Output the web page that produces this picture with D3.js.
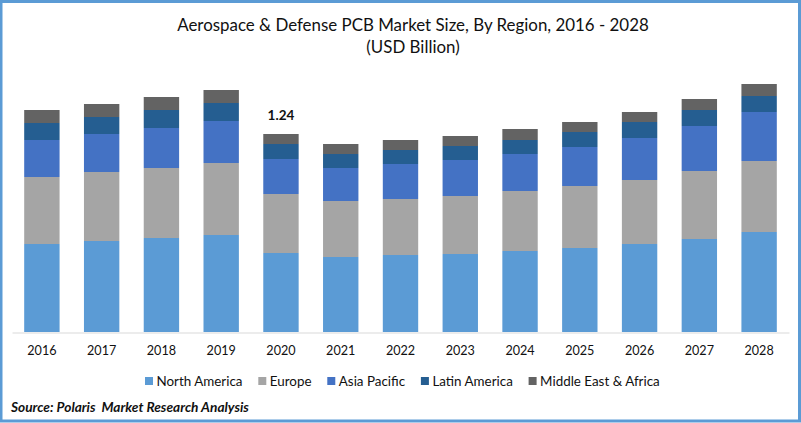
<!DOCTYPE html>
<html>
<head>
<meta charset="utf-8">
<script src="https://cdn.jsdelivr.net/npm/d3@7"></script>
<style>
html,body{margin:0;padding:0;background:#fff;overflow:hidden}
svg{display:block}
text{font-family:Lato,"Open Sans",sans-serif;fill:#111}
</style>
</head>
<body>
<div id="chart"></div>
<script>
const years = ["2016","2017","2018","2019","2020","2021","2022","2023","2024","2025","2026","2027","2028"];
const northAmerica = [.5511,.5699,.5887,.6075,.4947,.4697,.4822,.4885,.5073,.5261,.5511,.5824,.6263];
const europe = [.4196,.4321,.4384,.4509,.3695,.3507,.3507,.3632,.3758,.3883,.4008,.4259,.4446];
const asiaPacific = [.2317,.2380,.2505,.2630,.2192,.2067,.2192,.2255,.2317,.2442,.2630,.2818,.3069];
const latinAmerica = [.1065,.1065,.1127,.1127,.0939,.0877,.0877,.0877,.0877,.0939,.1002,.1002,.1002];
const middleEast = [.0814,.0814,.0814,.0814,.0626,.0626,.0626,.0626,.0689,.0626,.0626,.0689,.0752];
const seriesNames = ["North America","Europe","Asia Pacific","Latin America","Middle East & Africa"];
const seriesColors = ["#5b9bd5","#a5a5a5","#4472c4","#255e91","#636363"];
const titleLines = ["Aerospace & Defense PCB Market Size, By Region, 2016 - 2028","(USD Billion)"];
const sourceText = "Source: Polaris  Market Research Analysis";
const annotatedYear = "2020";
const annotatedValue = "1.24";

const W = 801, H = 423;
const svg = d3.select("#chart").append("svg").attr("width", W).attr("height", H);

svg.append("rect").attr("x",1).attr("y",1.5).attr("width",W-2.5).attr("height",H-3.5)
  .attr("fill","#fff").attr("stroke","#5b9bd5").attr("stroke-width",3);

const seriesValues = [northAmerica, europe, asiaPacific, latinAmerica, middleEast];
const rows = years.map((y,i)=>{
  const r = {year:y};
  seriesNames.forEach((n,k)=>{ r[n] = seriesValues[k][i]; });
  return r;
});
const stacked = d3.stack().keys(seriesNames)(rows);

const x = d3.scaleBand().domain(years).range([12,789]).paddingInner(0.408).paddingOuter(0.204);
const y = d3.scaleLinear().domain([0,1.24]).rangeRound([332,134]);
const color = d3.scaleOrdinal().domain(seriesNames).range(seriesColors);

svg.append("g").selectAll("g").data(stacked).join("g")
  .attr("fill", d=>color(d.key))
  .selectAll("rect").data(d=>d).join("rect")
  .attr("x", d=>x(d.data.year))
  .attr("width", x.bandwidth())
  .attr("y", d=>y(d[1]))
  .attr("height", d=>y(d[0])-y(d[1]));

const axis = svg.append("g").attr("transform","translate(0,332.5)")
  .call(d3.axisBottom(x).tickSize(0).tickPadding(14));
axis.select(".domain").attr("stroke","#d9d9d9").attr("stroke-width",1.2);
axis.selectAll("text").attr("font-size",12.6).style("font-family","Lato").attr("fill","#111");

svg.append("text").attr("x",x(annotatedYear)+x.bandwidth()/2).attr("y",120)
  .attr("text-anchor","middle").attr("font-size",13.5).attr("font-weight",700).text(annotatedValue);

svg.selectAll("text.title").data(titleLines).join("text").attr("class","title")
  .attr("x",413).attr("y",(d,i)=>31+i*21.5)
  .attr("text-anchor","middle").attr("font-size",16.9).text(d=>d);

let lx = 145;
const lg = svg.append("g");
seriesNames.forEach(n=>{
  lg.append("rect").attr("x",lx).attr("y",377).attr("width",8).attr("height",8).attr("fill",color(n));
  const t = lg.append("text").attr("x",lx+11.5).attr("y",386).attr("font-size",13.4).text(n);
  lx += 11.5 + t.node().getComputedTextLength() + 15.8;
});

svg.append("text").attr("x",11).attr("y",412).attr("font-size",13.7)
  .attr("font-weight",700).attr("font-style","italic").style("white-space","pre").text(sourceText);
</script>
</body>
</html>
